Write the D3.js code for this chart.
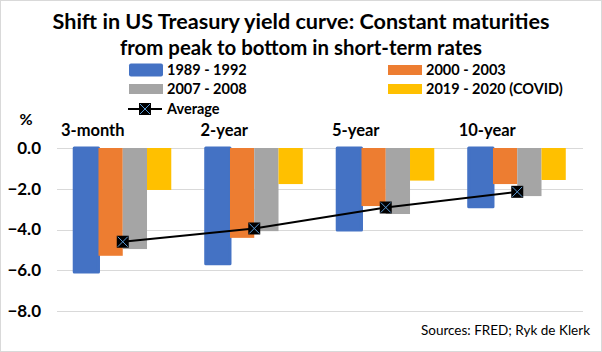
<!DOCTYPE html>
<html>
<head>
<meta charset="utf-8">
<script src="https://cdn.jsdelivr.net/npm/d3@7/dist/d3.min.js"></script>
<style>
  html, body { margin: 0; padding: 0; background: #fff; }
  svg { display: block; font-family: Lato, "Open Sans", sans-serif; }
</style>
</head>
<body>
<svg id="chart" width="602" height="352"></svg>
<script>
// ---- Data ----
const categories = ["3-month", "2-year", "5-year", "10-year"];
const seriesNames = ["1989 - 1992", "2000 - 2003", "2007 - 2008", "2019 - 2020 (COVID)"];
const s1989 = [-6.08, -5.68, -4.02, -2.88];
const s2000 = [-5.29, -4.41, -2.85, -1.77];
const s2007 = [-4.96, -4.08, -3.24, -2.36];
const s2019 = [-2.06, -1.77, -1.60, -1.57];
const average = [-4.60, -3.95, -2.92, -2.15];
const yTicks = [0, -2, -4, -6, -8];
const titleLines = ["Shift in US Treasury yield curve: Constant maturities",
                    "from peak to bottom in short-term rates"];
const sourceText = "Sources: FRED; Ryk de Klerk";

const colors = ["#4472C4", "#ED7D31", "#A5A5A5", "#FFC000"];
const seriesValues = [s1989, s2000, s2007, s2019];

const svg = d3.select("#chart");
const W = 602, H = 352;

svg.append("rect").attr("x", 0.5).attr("y", 0.5).attr("width", W - 1).attr("height", H - 1)
  .attr("fill", "#fff").attr("stroke", "#D9D9D9");

// ---- Scales ----
const plot = { left: 57, right: 583, top: 148, bottom: 311 };
const y = d3.scaleLinear().domain([-8, 0]).range([plot.bottom, plot.top]);
const x0 = d3.scaleBand().domain(categories).range([plot.left, plot.right]).padding(0);
const x1 = d3.scaleBand().domain(d3.range(seriesNames.length))
  .range([0, x0.bandwidth()]).paddingInner(0).paddingOuter(0.71);

// ---- Gridlines ----
svg.append("g").selectAll("line").data(yTicks).join("line")
  .attr("x1", plot.left).attr("x2", plot.right)
  .attr("y1", d => Math.round(y(d)) + 0.5).attr("y2", d => Math.round(y(d)) + 0.5)
  .attr("stroke", "#D9D9D9").attr("stroke-width", 1);

// ---- Y axis labels ----
const yAxis = d3.axisLeft(y).tickValues(yTicks).tickFormat(d3.format(".1f")).tickSize(0).tickPadding(0);
const gy = svg.append("g").attr("transform", `translate(41,0)`).call(yAxis);
gy.select(".domain").remove();
gy.selectAll("text").attr("font-size", 17).attr("font-weight", "bold").attr("fill", "#000")
  .attr("font-family", "Lato, sans-serif");

svg.append("text").attr("x", 26).attr("y", 119).attr("dy", "0.35em").attr("text-anchor", "middle")
  .attr("font-size", 16).attr("font-weight", "bold").text("%");

// ---- Bars ----
seriesValues.forEach((vals, si) => {
  svg.append("g").selectAll("rect").data(vals).join("rect")
    .attr("x", (d, i) => x0(categories[i]) + x1(si))
    .attr("width", x1.bandwidth())
    .attr("y", d => y(Math.max(0, d)))
    .attr("height", d => Math.abs(y(d) - y(0)))
    .attr("fill", colors[si])
    .attr("stroke", si === 0 ? colors[0] : "none")
    .attr("stroke-width", si === 0 ? 3 : 0)
    .attr("stroke-linejoin", "round");
});

// ---- Category labels ----
svg.append("g").selectAll("text").data(categories).join("text")
  .attr("x", d => x0(d) + x0.bandwidth() / 2 - 30)
  .attr("y", 130).attr("dy", "0.35em")
  .attr("text-anchor", "middle").attr("font-size", 16.5).attr("font-weight", "bold")
  .text(d => d);

// ---- Average line ----
const cx = (d, i) => x0(categories[i]) + x0.bandwidth() / 2;
const line = d3.line().x(cx).y(d => y(d));
svg.append("path").datum(average).attr("d", line)
  .attr("fill", "none").attr("stroke", "#000").attr("stroke-width", 2);

function marker(g, px, py) {
  const s = 6;
  g.append("rect").attr("x", px - s).attr("y", py - s).attr("width", 2 * s).attr("height", 2 * s)
    .attr("fill", "#000");
  g.append("path")
    .attr("d", `M${px - s + 1},${py - s + 1}L${px + s - 1},${py + s - 1}M${px - s + 1},${py + s - 1}L${px + s - 1},${py - s + 1}`)
    .attr("stroke", "#5B9BD5").attr("stroke-width", 1);
}
const mg = svg.append("g");
average.forEach((d, i) => marker(mg, cx(d, i), y(d)));

// ---- Title ----
const titleWidths = [497, 362];
titleLines.forEach((t, i) => {
  svg.append("text").attr("x", 301).attr("y", 29 + i * 26).attr("text-anchor", "middle")
    .attr("font-size", 20).attr("font-weight", "bold")
    .attr("textLength", titleWidths[i]).attr("lengthAdjust", "spacingAndGlyphs")
    .text(t);
});

// ---- Legend ----
const legendPos = [
  { sx: 129, ty: 70 }, { sx: 388, ty: 70 }, { sx: 129, ty: 89 }, { sx: 388, ty: 89 }
];
const lg = svg.append("g");
seriesNames.forEach((n, i) => {
  const p = legendPos[i];
  const h = i === 0 ? 13 : 10;
  lg.append("rect").attr("x", p.sx).attr("y", p.ty - h / 2).attr("width", 34).attr("height", h)
    .attr("fill", colors[i]).attr("rx", i === 0 ? 2 : 0);
  lg.append("text").attr("x", p.sx + 38).attr("y", p.ty).attr("dy", "0.35em")
    .attr("font-size", 14.5).attr("font-weight", "bold").text(n);
});
lg.append("line").attr("x1", 128).attr("x2", 162).attr("y1", 109).attr("y2", 109)
  .attr("stroke", "#000").attr("stroke-width", 2);
marker(lg, 145, 109);
lg.append("text").attr("x", 167).attr("y", 109).attr("dy", "0.35em")
  .attr("font-size", 14.5).attr("font-weight", "bold").text("Average");

// ---- Source ----
svg.append("text").attr("x", 590).attr("y", 330).attr("dy", "0.35em").attr("text-anchor", "end")
  .attr("font-size", 13.5).text(sourceText);
</script>
</body>
</html>
